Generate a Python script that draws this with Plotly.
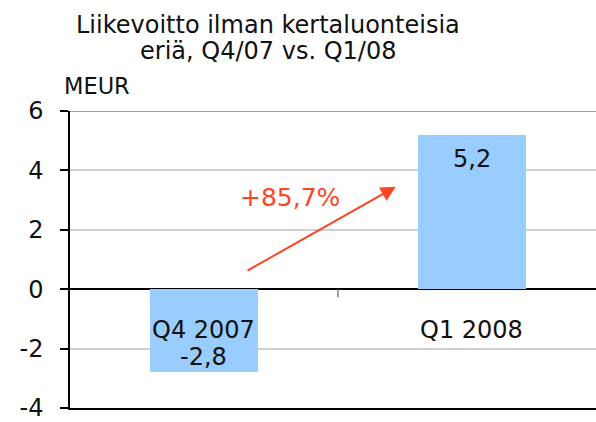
import plotly.graph_objects as go

categories = ["Q4 2007", "Q1 2008"]
values = [-2.8, 5.2]
change_label = "+85,7%"
y_ticks = [-4, -2, 0, 2, 4, 6]
title_lines = ["Liikevoitto ilman kertaluonteisia", "eriä, Q4/07 vs. Q1/08"]
unit_label = "MEUR"

FONT = "DejaVu Sans"
TXT = "#111111"
RED = "#FF4422"

fig = go.Figure()
fig.add_trace(go.Bar(x=list(range(len(categories))), y=values, width=0.403,
                     marker=dict(color="#99CCFF", line=dict(width=0)), hoverinfo="skip"))

# category labels inside plot, just below zero line
for i, c in enumerate(categories):
    fig.add_annotation(x=i, y=-1.36, text=c, showarrow=False, xref="x", yref="y",
                       font=dict(family=FONT, size=24, color=TXT))
# value labels
for i, v in enumerate(values):
    ytxt = -2.28 if v < 0 else v - 0.81
    fig.add_annotation(x=i, y=ytxt, text=f"{v:.1f}".replace(".", ","), showarrow=False,
                       font=dict(family=FONT, size=24, color=TXT))

# growth arrow
fig.add_annotation(x=0.716, y=3.45, ax=0.157, ay=0.6, xref="x", yref="y", axref="x", ayref="y",
                   text="", showarrow=True, arrowhead=2, arrowsize=1.5, arrowwidth=2, arrowcolor=RED)
fig.add_annotation(x=0.321, y=3.09, text=change_label, showarrow=False,
                   font=dict(family=FONT, size=25, color=RED))

# top border and category divider tick
fig.add_shape(type="line", xref="paper", yref="y", x0=0, x1=1, y0=6, y1=6,
              line=dict(color="#808080", width=1.5))
fig.add_shape(type="line", xref="x", yref="y", x0=0.5, x1=0.5, y0=0, y1=-0.27,
              line=dict(color="#808080", width=1.5))

# title lines and unit label
fig.add_annotation(x=0.376, y=1.289, xref="paper", yref="paper", xanchor="center", yanchor="middle",
                   text=title_lines[0], showarrow=False, font=dict(family=FONT, size=24, color=TXT))
fig.add_annotation(x=0.376, y=1.203, xref="paper", yref="paper", xanchor="center", yanchor="middle",
                   text=title_lines[1], showarrow=False, font=dict(family=FONT, size=24, color=TXT))
fig.add_annotation(x=-0.015, y=1.083, xref="paper", yref="paper", xanchor="left", yanchor="middle",
                   text=unit_label, showarrow=False, font=dict(family=FONT, size=22.5, color=TXT))

fig.update_layout(
    width=596, height=422,
    margin=dict(l=70, r=0, t=111, b=10),
    paper_bgcolor="white", plot_bgcolor="white",
    showlegend=False,
    bargap=0,
    xaxis=dict(range=[-0.5, 1.463], showticklabels=False, showgrid=False, zeroline=False,
               showline=True, linecolor="#000000", linewidth=1.5, ticks=""),
    yaxis=dict(range=[-4, 6], tickvals=y_ticks, ticktext=[str(t) for t in y_ticks],
               showgrid=True, gridcolor="#D0D0D0", gridwidth=1.5,
               zeroline=True, zerolinecolor="#000000", zerolinewidth=1.5,
               showline=True, linecolor="#000000", linewidth=1.5,
               ticks="outside", ticklen=8, tickcolor="#000000", tickwidth=1.5,
               ticklabelstandoff=12, ticklabeloverflow="allow",
               tickfont=dict(family=FONT, size=24, color=TXT)),
)

fig.write_html("out.html", config={"displayModeBar": False},
               post_script="document.body.style.margin='0px';")
